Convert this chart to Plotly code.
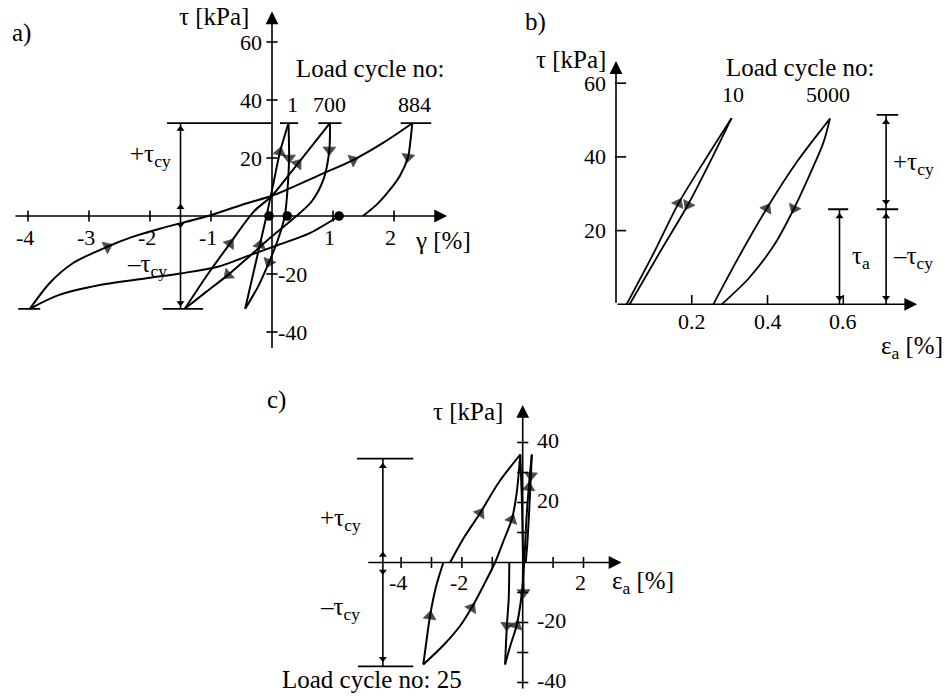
import plotly.graph_objects as go

# ---------------- data ----------------
# Panel a) gamma [%] vs tau [kPa]
A884_LOAD_X = [-3.97, -3.64, -3.26, -2.7, -2.3, -1.84, -1.05, -0.5, 0.0, 0.3, 0.84, 1.33, 1.82, 2.3]
A884_LOAD_Y = [-32, -23, -16.2, -10.6, -7.3, -4.4, 0, 3.8, 7, 9.6, 14.7, 19.3, 25.2, 32]
A884_UNLOAD_X = [2.3, 2.27, 2.23, 2.1, 1.93, 1.72, 1.49]
A884_UNLOAD_Y = [32, 26, 20.3, 14, 9, 4, 0]
A884_LOWER_X = [-3.97, -3.5, -2.82, -2.0, -1.5, -0.9, -0.36, 0.1, 0.62, 1.1]
A884_LOWER_Y = [-32, -27.3, -23.8, -21.3, -19.8, -17.6, -13.5, -10, -5.9, 0]
A700_LOAD_X = [-1.43, -1.05, -0.69, -0.3, 0.0, 0.42, 0.95]
A700_LOAD_Y = [-32, -20, -9.5, 1.5, 7, 18, 32]
A700_UNLOAD_X = [0.95, 0.94, 0.85, 0.65, 0.4, 0.0, -0.35, -0.72, -1.1, -1.43]
A700_UNLOAD_Y = [32, 22.8, 13, 5, 0, -7, -13.5, -20.3, -26.5, -32]
A1_LOAD_X = [-0.44, -0.32, -0.2, -0.08, 0.03, 0.13, 0.27]
A1_LOAD_Y = [-32, -21, -10, 1, 12, 22, 32]
A1_UNLOAD_X = [0.27, 0.28, 0.25, 0.21, 0.1, -0.05, -0.22, -0.44]
A1_UNLOAD_Y = [32, 20, 8, 0, -8, -16, -24, -32]
A_DOT_X = [-0.05, 0.25, 1.1]
A_DOT_Y = [0, 0, 0]
A_TAU_CY = 32
A_BAR_GAMMA = -1.5
A_XTICKS = [-4, -3, -2, -1, 1, 2]
A_YTICKS = [-40, -20, 20, 40, 60]
A_CYCLES = ["1", "700", "884"]
A_CYCLE_PEAK = [0.28, 0.95, 2.36]

# Panel b) eps_a [%] vs tau [kPa]
B10_LOAD_X = [0.028, 0.10, 0.165, 0.24, 0.305]
B10_LOAD_Y = [0, 14, 27.4, 40, 50.5]
B10_UNLOAD_X = [0.305, 0.255, 0.19, 0.115, 0.036]
B10_UNLOAD_Y = [50.5, 40, 27, 14, 0]
B5000_LOAD_X = [0.257, 0.325, 0.398, 0.48, 0.565]
B5000_LOAD_Y = [0, 13, 26, 39, 50.4]
B5000_UNLOAD_X = [0.565, 0.548, 0.515, 0.47, 0.42, 0.35, 0.279]
B5000_UNLOAD_Y = [50.4, 44, 36, 26, 16.5, 7, 0]
B_TAU_A = 25.8
B_TAU_MAX = 51.4
B_XTICKS = [0.2, 0.4, 0.6]
B_YTICKS = [20, 40, 60]
B_CYCLES = ["10", "5000"]
B_CYCLE_X = [0.31, 0.56]

# Panel c) eps_a [%] vs tau [kPa], load cycle 25
C1_X = [-3.27, -3.15, -3.05, -2.85, -2.61]
C1_Y = [-34, -25, -17.9, -8, 0]
C2_X = [-2.39, -1.95, -1.4, -0.8, -0.08]
C2_Y = [0, 8, 16.5, 26.5, 36]
C3_X = [-3.27, -2.6, -2.05, -1.68, -1.3, -0.91, -0.6, -0.36, -0.2, -0.08]
C3_Y = [-34, -27.5, -21, -15.1, -7.9, 0, 8, 14.3, 23, 36]
C4_X = [-0.08, -0.03, 0.0, 0.02, 0.03]
C4_Y = [36, 22, 8, -2, -10]
C5_X = [-0.44, -0.46, -0.52, -0.58]
C5_Y = [0, -12, -21, -34]
C6_X = [-0.58, -0.4, -0.2, -0.05, 0.05, 0.12, 0.2, 0.3]
C6_Y = [-34, -27.5, -21, -12, 0, 14, 25, 36]
C7_X = [0.3, 0.27, 0.22, 0.15, 0.1]
C7_Y = [36, 29, 18.6, 6, 0]
C_TAU_CY = 34.6
C_BAR_EPS = -4.6
C_XTICKS = [-4, -3, -2, -1, 1, 2]
C_XLABELS = [-4, -2, 2]
C_YTICKS = [-40, -30, -20, -10, 10, 20, 30, 40]
C_YLABELS = [-40, -20, 20, 40]

# ---------------- styling / layout ----------------
W, H = 951, 697
INK = "#000000"
FONT = "Liberation Serif"
LBL = 25
TCK = 22
ASZ = 11
LW = 2.0

fig = go.Figure()

# panel geometry: pixel origin, pixels per unit, ranges
PANELS = {
    "a": dict(ox=272, oy=216, sx=61, sy=2.9, xr=[-4.35, 3.3], yr=[-48, 70], xa="x", ya="y"),
    "b": dict(ox=616, oy=304.3, sx=378.8, sy=3.685, xr=[-0.22, 0.88], yr=[-15, 80], xa="x2", ya="y2"),
    "c": dict(ox=522.7, oy=562.5, sx=30.4, sy=3.0, xr=[-8.5, 5.5], yr=[-44.5, 56], xa="x3", ya="y3"),
}


def dom(p):
    xd = [(p["ox"] + p["sx"] * p["xr"][0]) / W, (p["ox"] + p["sx"] * p["xr"][1]) / W]
    yd = [1 - (p["oy"] - p["sy"] * p["yr"][0]) / H, 1 - (p["oy"] - p["sy"] * p["yr"][1]) / H]
    return xd, yd


def curve(p, xs, ys, arrows=(), width=LW):
    sizes = [ASZ if i in arrows else 0 for i in range(len(xs))]
    fig.add_trace(go.Scatter(
        x=xs, y=ys, mode="lines+markers",
        line=dict(color=INK, width=width, shape="spline", smoothing=0.8),
        marker=dict(size=sizes, symbol="triangle-up", angleref="previous", color=INK,
                    line=dict(width=0.8, color=INK)),
        xaxis=p["xa"], yaxis=p["ya"], showlegend=False, hoverinfo="skip"))


def seg(p, x0, y0, x1, y1, width=1.8):
    fig.add_trace(go.Scatter(x=[x0, x1], y=[y0, y1], mode="lines",
                             line=dict(color=INK, width=width),
                             xaxis=p["xa"], yaxis=p["ya"], showlegend=False, hoverinfo="skip"))


def marks(p, xs, ys, symbol, size, lw=1.6):
    fig.add_trace(go.Scatter(x=xs, y=ys, mode="markers",
                             marker=dict(symbol=symbol, size=size, color=INK,
                                         line=dict(color=INK, width=lw)),
                             xaxis=p["xa"], yaxis=p["ya"], showlegend=False, hoverinfo="skip",
                             cliponaxis=False))


anns = []


def txt(p, x, y, s, size=LBL, xanchor="center", yanchor="middle"):
    anns.append(dict(x=x, y=y, xref=p["xa"], yref=p["ya"], text=s, showarrow=False,
                     xanchor=xanchor, yanchor=yanchor,
                     font=dict(family=FONT, size=size, color=INK)))


def axis_arrow(p, x0, y0, x1, y1):
    anns.append(dict(x=x1, y=y1, ax=x0, ay=y0, xref=p["xa"], yref=p["ya"],
                     axref=p["xa"], ayref=p["ya"], text="", showarrow=True,
                     arrowhead=2, arrowsize=1.6, arrowwidth=1.6, arrowcolor=INK, standoff=0))


# ---------- panel a ----------
pa = PANELS["a"]
axis_arrow(pa, -4.23, 0, 2.87, 0)
axis_arrow(pa, 0, -46, 0, 70.5)
marks(pa, A_XTICKS, [0] * len(A_XTICKS), "line-ns", 8)
marks(pa, [0] * len(A_YTICKS), A_YTICKS, "line-ew", 8)
for v in A_XTICKS:
    txt(pa, v - 0.05, -7.5, str(v), TCK)
for v in A_YTICKS:
    if v > 0:
        txt(pa, -0.13, v, str(v), TCK, xanchor="right")
    else:
        txt(pa, 0.07, v, str(v), TCK, xanchor="left")

curve(pa, A884_LOAD_X, A884_LOAD_Y, arrows=(3, 11))
curve(pa, A884_UNLOAD_X, A884_UNLOAD_Y, arrows=(2,))
curve(pa, A884_LOWER_X, A884_LOWER_Y)
curve(pa, A700_LOAD_X, A700_LOAD_Y, arrows=(2, 5))
curve(pa, A700_UNLOAD_X, A700_UNLOAD_Y, arrows=(1, 7))
curve(pa, A1_LOAD_X, A1_LOAD_Y, arrows=(2, 5))
curve(pa, A1_UNLOAD_X, A1_UNLOAD_Y, arrows=(1, 5))
marks(pa, A_DOT_X, A_DOT_Y, "circle", 8)

# tau_cy bar
seg(pa, A_BAR_GAMMA, -A_TAU_CY, A_BAR_GAMMA, A_TAU_CY, 1.6)
seg(pa, -1.72, A_TAU_CY, 0, A_TAU_CY)
seg(pa, -1.79, -A_TAU_CY, -1.13, -A_TAU_CY)
seg(pa, -4.16, -A_TAU_CY, -3.8, -A_TAU_CY)
for g, half in zip(A_CYCLE_PEAK, [0.15, 0.19, 0.25]):
    seg(pa, g - half, A_TAU_CY, g + half, A_TAU_CY)
marks(pa, [A_BAR_GAMMA] * 2, [A_TAU_CY - 2, 3], "triangle-up", 7, 0)
marks(pa, [A_BAR_GAMMA] * 2, [-3, -A_TAU_CY + 2], "triangle-down", 7, 0)

txt(pa, -4.1, 63, "a)")
txt(pa, -0.95, 68.8, "τ [kPa]")
txt(pa, 1.62, 51, "Load cycle no:")
for s, g in zip(A_CYCLES, [0.33, 0.95, 2.34]):
    txt(pa, g, 38.5, s, TCK)
txt(pa, -2.0, 21, "+τ<sub>cy</sub>")
txt(pa, -2.05, -17, "–τ<sub>cy</sub>")
txt(pa, 2.8, -8.6, "γ [%]")

# ---------- panel b ----------
pb = PANELS["b"]
axis_arrow(pb, 0, 0, 0.795, 0)
axis_arrow(pb, 0, 0, 0, 66)
marks(pb, B_XTICKS, [1.2] * len(B_XTICKS), "line-ns", 7)
marks(pb, [0.012] * len(B_YTICKS), B_YTICKS, "line-ew", 8)
for v in B_XTICKS:
    txt(pb, v, -4.8, str(v), TCK)
for v in B_YTICKS:
    txt(pb, -0.022, v, str(v), TCK, xanchor="right")

curve(pb, B10_LOAD_X, B10_LOAD_Y, arrows=(2,), width=1.8)
curve(pb, B10_UNLOAD_X, B10_UNLOAD_Y, arrows=(2,), width=1.8)
curve(pb, B5000_LOAD_X, B5000_LOAD_Y, arrows=(2,), width=1.8)
curve(pb, B5000_UNLOAD_X, B5000_UNLOAD_Y, arrows=(3,), width=1.8)

# tau_a bar
seg(pb, 0.59, 0, 0.59, B_TAU_A, 1.6)
seg(pb, 0.56, B_TAU_A, 0.613, B_TAU_A)
marks(pb, [0.59], [B_TAU_A - 2], "triangle-up", 7, 0)
marks(pb, [0.59], [1.8], "triangle-down", 7, 0)
# +-tau_cy bar
seg(pb, 0.713, 0, 0.713, B_TAU_MAX, 1.6)
seg(pb, 0.688, B_TAU_MAX, 0.745, B_TAU_MAX)
seg(pb, 0.688, B_TAU_A, 0.745, B_TAU_A)
marks(pb, [0.713, 0.713], [B_TAU_MAX - 2, B_TAU_A - 2], "triangle-up", 7, 0)
marks(pb, [0.713, 0.713], [B_TAU_A + 2, 1.8], "triangle-down", 7, 0)

txt(pb, -0.212, 76.5, "b)")
txt(pb, -0.12, 66.3, "τ [kPa]")
txt(pb, 0.487, 64.2, "Load cycle no:")
for s, e in zip(B_CYCLES, B_CYCLE_X):
    txt(pb, e, 56.8, s, TCK)
txt(pb, 0.868, -11.6, "ε<sub>a</sub> [%]", xanchor="right")
txt(pb, 0.785, 38.3, "+τ<sub>cy</sub>")
txt(pb, 0.785, 12.8, "–τ<sub>cy</sub>")
txt(pb, 0.648, 12.8, "τ<sub>a</sub>")

# ---------- panel c ----------
pc = PANELS["c"]
axis_arrow(pc, -5.13, 0, 3.25, 0)
axis_arrow(pc, 0, -42.5, 0, 52.5)
marks(pc, C_XTICKS, [0] * len(C_XTICKS), "line-ns", 8)
marks(pc, [0] * len(C_YTICKS), C_YTICKS, "line-ew", 8)
for v in C_XLABELS:
    txt(pc, v - 0.1, -6.8, str(v), TCK)
for v in C_YLABELS:
    txt(pc, 0.4, v + 0.6, str(v), TCK, xanchor="left")

curve(pc, C1_X, C1_Y, arrows=(2,))
curve(pc, C2_X, C2_Y, arrows=(2,))
curve(pc, C3_X, C3_Y, arrows=(3, 7))
curve(pc, C4_X, C4_Y, arrows=(4,))
curve(pc, C5_X, C5_Y, arrows=(2,))
curve(pc, C6_X, C6_Y, arrows=(2, 6))
curve(pc, C7_X, C7_Y, arrows=(1,))

seg(pc, C_BAR_EPS, -C_TAU_CY, C_BAR_EPS, C_TAU_CY, 1.6)
seg(pc, -5.45, C_TAU_CY, -3.6, C_TAU_CY)
seg(pc, -5.42, -C_TAU_CY, -3.6, -C_TAU_CY)
marks(pc, [C_BAR_EPS] * 2, [C_TAU_CY - 2.5, 2.5], "triangle-up", 7, 0)
marks(pc, [C_BAR_EPS] * 2, [-3, -C_TAU_CY + 2.5], "triangle-down", 7, 0)

txt(pc, -8.1, 54.2, "c)")
txt(pc, -1.8, 50.2, "τ [kPa]")
txt(pc, 3.95, -6.8, "ε<sub>a</sub> [%]")
txt(pc, -6.0, 14.2, "+τ<sub>cy</sub>")
txt(pc, -6.0, -15.2, "–τ<sub>cy</sub>")
txt(pc, -4.95, -44.2, "Load cycle no: 25", yanchor="bottom")

# ---------- axes ----------
layout_axes = {}
for key, name in [("a", ""), ("b", "2"), ("c", "3")]:
    p = PANELS[key]
    xd, yd = dom(p)
    layout_axes["xaxis" + name] = dict(domain=xd, range=p["xr"], visible=False, fixedrange=True,
                                       anchor="y" + name)
    layout_axes["yaxis" + name] = dict(domain=yd, range=p["yr"], visible=False, fixedrange=True,
                                       anchor="x" + name)

fig.update_layout(
    width=W, height=H, margin=dict(l=0, r=0, t=0, b=0),
    paper_bgcolor="white", plot_bgcolor="white",
    showlegend=False, annotations=anns,
    font=dict(family=FONT, color=INK),
    **layout_axes)

fig.write_html("out.html", config={"displayModeBar": False},
               post_script="document.body.style.margin='0';document.body.style.overflow='hidden';")
